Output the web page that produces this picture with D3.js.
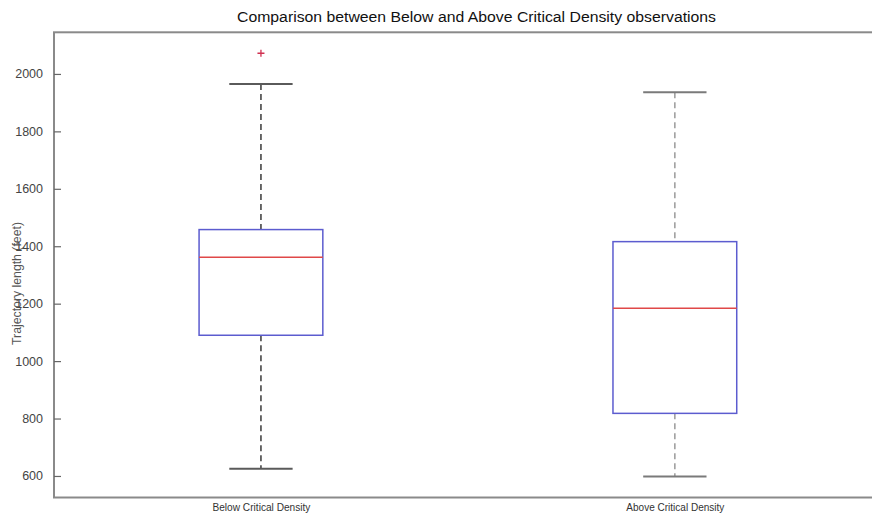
<!DOCTYPE html>
<html>
<head>
<meta charset="utf-8">
<script src="https://cdn.jsdelivr.net/npm/d3@7"></script>
<style>
  html, body { margin: 0; padding: 0; background: #ffffff; }
  svg { display: block; }
</style>
</head>
<body>
<svg id="chart" width="872" height="518"></svg>
<script>
// ---- data ----
const categories = ["Below Critical Density", "Above Critical Density"];
const positions = [1, 2];
const lowerWhisker = [625, 598];
const q1 = [1090, 818];
const median = [1362, 1184];
const q3 = [1458, 1416];
const upperWhisker = [1965, 1936];
const outliers = [[2072], []];
const yTicks = [600, 800, 1000, 1200, 1400, 1600, 1800, 2000];
const titleText = "Comparison between Below and Above Critical Density observations";
const yLabelText = "Trajectory length (feet)";

// ---- layout ----
const svg = d3.select("#chart");
const mLeft = 54, mTop = 32.3, mBottom = 497.5, mRight = 881.8;
const x = d3.scaleLinear().domain([0.5, 2.5]).range([mLeft, mRight]);
const y = d3.scaleLinear().domain([525, 2145]).range([mBottom, mTop]);

const boxHalf = 0.1495, capHalf = 0.0765;
const whiskerColor = ["#3a3a3a", "#9a9a9a"];
const capColor = ["#5a5a5a", "#7a7a7a"];

// frame
const axisColor = "#8a8a8a";
svg.append("rect")
  .attr("x", mLeft).attr("y", mTop)
  .attr("width", mRight - mLeft).attr("height", mBottom - mTop)
  .attr("fill", "#ffffff").attr("stroke", axisColor).attr("stroke-width", 2);

// y axis (left) with inward ticks
const yAxis = d3.axisLeft(y).tickValues(yTicks).tickSizeInner(-7).tickSizeOuter(0).tickPadding(11).tickFormat(d3.format("d"));
const gy = svg.append("g").attr("transform", `translate(${mLeft},0)`).call(yAxis);
gy.select(".domain").remove();
gy.selectAll(".tick line").attr("stroke", "#666").attr("stroke-width", 1.2);
gy.selectAll(".tick text")
  .attr("fill", "#444")
  .style("font-family", "'Liberation Sans', Arial, sans-serif")
  .style("font-size", "12.5px");

// right-side mirrored ticks
const yAxisR = d3.axisRight(y).tickValues(yTicks).tickSizeInner(-7).tickSizeOuter(0).tickFormat("");
const gyr = svg.append("g").attr("transform", `translate(${mRight},0)`).call(yAxisR);
gyr.select(".domain").remove();
gyr.selectAll(".tick line").attr("stroke", "#bbb").attr("stroke-width", 1);

// x axis labels
const xAxis = d3.axisBottom(x).tickValues(positions).tickSize(0).tickPadding(6).tickFormat((d, i) => categories[i]);
const gx = svg.append("g").attr("transform", `translate(0,${mBottom})`).call(xAxis);
gx.select(".domain").remove();
gx.selectAll(".tick text")
  .attr("fill", "#333")
  .style("font-family", "'Liberation Sans Narrow', 'Arial Narrow', 'Liberation Sans', sans-serif")
  .style("font-size", "11px")
  .attr("textLength", 98)
  .attr("lengthAdjust", "spacingAndGlyphs");

// boxes
const g = svg.append("g");
positions.forEach((p, i) => {
  const cx = x(p);
  // whiskers (dashed)
  g.append("line").attr("x1", cx).attr("x2", cx)
    .attr("y1", y(upperWhisker[i])).attr("y2", y(q3[i]))
    .attr("stroke", whiskerColor[i]).attr("stroke-width", 1.5).attr("stroke-dasharray", "6,4");
  g.append("line").attr("x1", cx).attr("x2", cx)
    .attr("y1", y(q1[i])).attr("y2", y(lowerWhisker[i]))
    .attr("stroke", whiskerColor[i]).attr("stroke-width", 1.5).attr("stroke-dasharray", "6,4");
  // caps
  [upperWhisker[i], lowerWhisker[i]].forEach(v => {
    g.append("line")
      .attr("x1", x(p - capHalf)).attr("x2", x(p + capHalf))
      .attr("y1", y(v)).attr("y2", y(v))
      .attr("stroke", capColor[i]).attr("stroke-width", 2);
  });
  // box
  g.append("rect")
    .attr("x", x(p - boxHalf)).attr("y", y(q3[i]))
    .attr("width", x(p + boxHalf) - x(p - boxHalf))
    .attr("height", y(q1[i]) - y(q3[i]))
    .attr("fill", "none").attr("stroke", "#5c5ccf").attr("stroke-width", 1.5);
  // median
  g.append("line")
    .attr("x1", x(p - boxHalf)).attr("x2", x(p + boxHalf))
    .attr("y1", y(median[i])).attr("y2", y(median[i]))
    .attr("stroke", "#e04848").attr("stroke-width", 1.5);
  // outliers
  outliers[i].forEach(v => {
    const oy = y(v);
    g.append("path")
      .attr("d", `M${cx - 3.5},${oy}H${cx + 3.5}M${cx},${oy - 3.5}V${oy + 3.5}`)
      .attr("stroke", "#d03050").attr("stroke-width", 1.3).attr("fill", "none");
  });
});

// title
svg.append("text")
  .attr("x", 476.5).attr("y", 22)
  .attr("text-anchor", "middle")
  .attr("fill", "#111")
  .style("font-family", "'Liberation Sans Narrow', 'Arial Narrow', 'Liberation Sans', sans-serif")
  .style("font-size", "14px")
  .attr("textLength", 479)
  .attr("lengthAdjust", "spacingAndGlyphs")
  .text(titleText);

// y label
svg.append("text")
  .attr("transform", `translate(21,283.5) rotate(-90)`)
  .attr("text-anchor", "middle")
  .attr("fill", "#555")
  .style("font-family", "'Liberation Sans', Arial, sans-serif")
  .style("font-size", "12.5px")
  .attr("textLength", 123)
  .attr("lengthAdjust", "spacingAndGlyphs")
  .text(yLabelText);
</script>
</body>
</html>
